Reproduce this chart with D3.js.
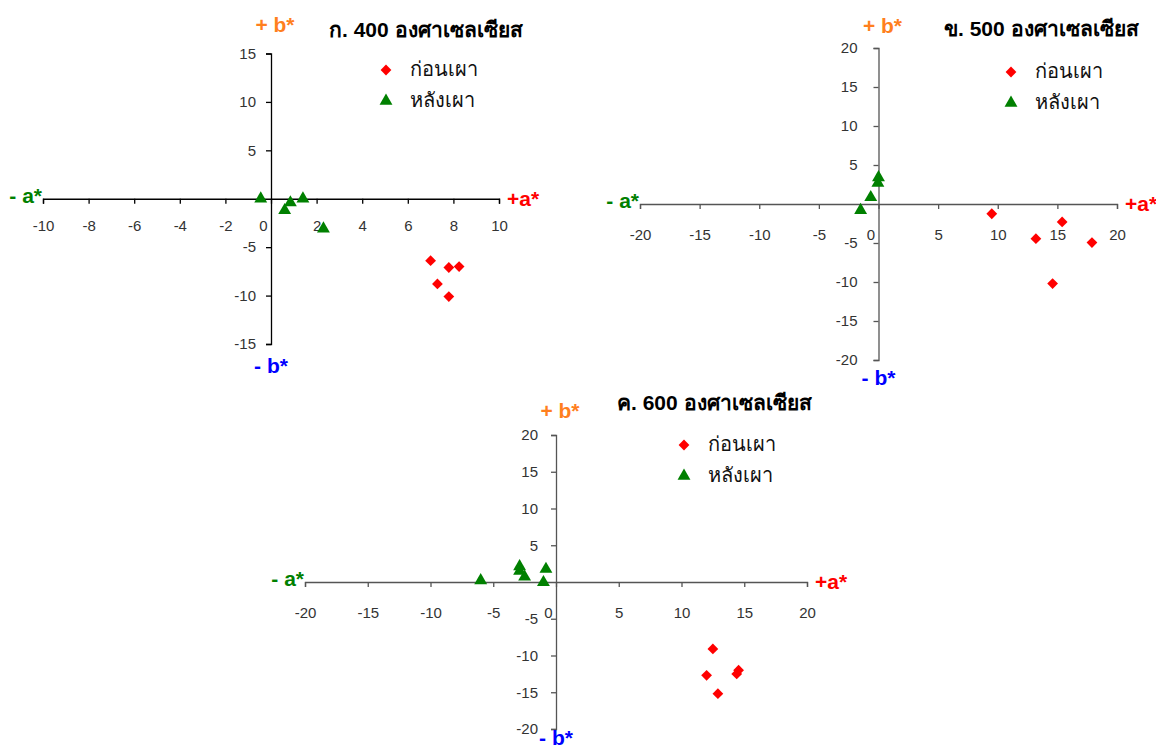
<!DOCTYPE html>
<html>
<head>
<meta charset="utf-8">
<script src="https://cdnjs.cloudflare.com/ajax/libs/d3/7.8.5/d3.min.js"></script>
<style>
  body { margin: 0; background: #fff; }
  svg { display: block; }
  .tick text { font-family: "Liberation Sans", Arial, sans-serif; font-size: 15px; fill: #333; }
  .ttl { font-family: "Liberation Sans", Arial, sans-serif; font-weight: bold; font-size: 21px; fill: #000; }
  .leg { font-family: "Liberation Sans", Arial, sans-serif; font-size: 20px; fill: #111; }
  .ax { font-family: "Liberation Sans", Arial, sans-serif; font-weight: bold; font-size: 21px; }
</style>
</head>
<body>
<svg></svg>
<script>
// series names / titles
var seriesNames = ["ก่อนเผา", "หลังเผา"];
var titles = ["ก. 400 องศาเซลเซียส", "ข. 500 องศาเซลเซียส", "ค. 600 องศาเซลเซียส"];

// 400 C
var before400A = [7.0, 7.8, 8.25, 7.3, 7.8];
var before400B = [-6.4, -7.1, -7.0, -8.8, -10.1];
var after400A = [-0.45, 0.85, 0.6, 1.4, 2.3];
var after400B = [0.0, -0.4, -1.2, 0.0, -3.1];

// 500 C
var before500A = [9.5, 15.4, 13.2, 17.9, 14.6];
var before500B = [-1.25, -2.3, -4.45, -4.95, -10.2];
var after500A = [0.0, -0.05, -0.65, -1.5];
var after500B = [3.4, 2.7, 0.85, -0.8];

// 600 C
var before600A = [12.5, 12.0, 14.4, 14.55, 12.9];
var before600B = [-9.1, -12.7, -12.5, -12.0, -15.2];
var after600A = [-6.0, -2.9, -2.9, -2.5, -0.8, -1.0];
var after600B = [0.2, 2.1, 1.5, 0.7, 1.75, -0.05];

// tick values
var xTicks400 = [-10, -8, -6, -4, -2, 0, 2, 4, 6, 8, 10];
var yTicks400 = [-15, -10, -5, 5, 10, 15];
var xTicks20 = [-20, -15, -10, -5, 0, 5, 10, 15, 20];
var yTicks20 = [-20, -15, -10, -5, 5, 10, 15, 20];

var W = 1156, H = 751;
var svg = d3.select("svg").attr("width", W).attr("height", H);

var panels = [
  {title: titles[0], xd: [-10, 10], yd: [-15, 15], xr: [43, 499], yr: [344, 53.5],
   xt: xTicks400, yt: yTicks400, axisCol: "#000",
   before: [before400A, before400B], after: [after400A, after400B],
   titleX: 329, titleY: 37, legX: 386, legY: 70, xPad: 17, yPad: 10,
   topLabY: 32, botLabY: 373},
  {title: titles[1], xd: [-20, 20], yd: [-20, 20], xr: [640, 1117], yr: [360, 48],
   xt: xTicks20, yt: yTicks20, axisCol: "#555",
   before: [before500A, before500B], after: [after500A, after500B],
   titleX: 944, titleY: 36, legX: 1011, legY: 72, xPad: 20, yPad: 16,
   topLabY: 33, botLabY: 385},
  {title: titles[2], xd: [-20, 20], yd: [-20, 20], xr: [305, 807], yr: [729, 435],
   xt: xTicks20, yt: yTicks20, axisCol: "#555",
   before: [before600A, before600B], after: [after600A, after600B],
   titleX: 617, titleY: 410, legX: 684, legY: 445, xPad: 20, yPad: 13,
   topLabY: 418, botLabY: 745}
];

var diamond = d3.symbol().type(d3.symbolSquare).size(58);
var triangle = d3.symbol().type(d3.symbolTriangle).size(72);

function fmt(v) { return v < 0 ? "-" + Math.abs(v) : String(v); }

panels.forEach(function(p) {
  var x = d3.scaleLinear().domain(p.xd).range(p.xr);
  var y = d3.scaleLinear().domain(p.yd).range(p.yr);
  var g = svg.append("g");

  var gx = g.append("g").attr("transform", "translate(0," + y(0) + ")")
    .call(d3.axisBottom(x).tickValues(p.xt).tickSizeInner(5).tickSizeOuter(5)
      .tickPadding(p.xPad).tickFormat(fmt));
  var gy = g.append("g").attr("transform", "translate(" + x(0) + ",0)")
    .call(d3.axisLeft(y).tickValues(p.yt).tickSizeInner(5).tickSizeOuter(5)
      .tickPadding(p.yPad).tickFormat(fmt));
  [gx, gy].forEach(function(a) {
    a.select(".domain").attr("stroke", p.axisCol).attr("stroke-width", 1.3);
    a.selectAll(".tick line").attr("stroke", p.axisCol).attr("stroke-width", 1.3);
  });
  // 0 label sits a little left of the vertical axis
  gx.selectAll(".tick").filter(function(d) { return d === 0; })
    .select("text").attr("dx", -8);

  // points
  g.selectAll(".bef").data(p.before[0].map(function(a, i) { return [a, p.before[1][i]]; }))
    .enter().append("path").attr("class", "bef")
    .attr("d", diamond).attr("fill", "#ff0000")
    .attr("transform", function(d) { return "translate(" + x(d[0]) + "," + y(d[1]) + ") rotate(45)"; });
  g.selectAll(".aft").data(p.after[0].map(function(a, i) { return [a, p.after[1][i]]; }))
    .enter().append("path").attr("class", "aft")
    .attr("d", triangle).attr("fill", "#008000")
    .attr("transform", function(d) { return "translate(" + x(d[0]) + "," + y(d[1]) + ")"; });

  // axis end labels
  g.append("text").attr("class", "ax").attr("fill", "#ff7f1e")
    .attr("x", x(0) + 4).attr("y", p.topLabY).attr("text-anchor", "middle").text("+ b*");
  g.append("text").attr("class", "ax").attr("fill", "#0000ff")
    .attr("x", x(0)).attr("y", p.botLabY).attr("text-anchor", "middle").text("- b*");
  g.append("text").attr("class", "ax").attr("fill", "#008000")
    .attr("x", p.xr[0] - 1).attr("y", y(0) + 4).attr("text-anchor", "end").text("- a*");
  g.append("text").attr("class", "ax").attr("fill", "#ff0000")
    .attr("x", p.xr[1] + 8).attr("y", y(0) + 7).text("+a*");

  // title
  g.append("text").attr("class", "ttl").attr("x", p.titleX).attr("y", p.titleY).text(p.title);

  // legend
  var lg = g.append("g").attr("transform", "translate(" + p.legX + "," + p.legY + ")");
  lg.append("path").attr("d", diamond).attr("fill", "#ff0000").attr("transform", "rotate(45)");
  lg.append("path").attr("d", triangle).attr("fill", "#008000").attr("transform", "translate(0,31)");
  lg.append("text").attr("class", "leg").attr("x", 24).attr("y", 6).text(seriesNames[0]);
  lg.append("text").attr("class", "leg").attr("x", 24).attr("y", 37).text(seriesNames[1]);
});
</script>
</body>
</html>
